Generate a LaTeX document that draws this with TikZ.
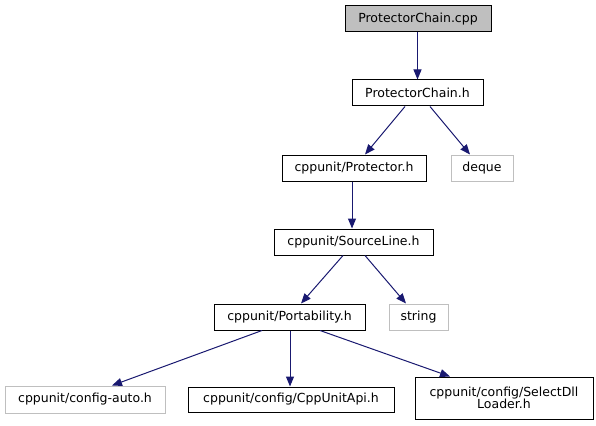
\documentclass[tikz,border=0pt]{standalone}
\usepackage{fontspec}
\setmainfont{DejaVu Sans}
\usetikzlibrary{arrows.meta}
\definecolor{edgecol}{HTML}{191970}
\definecolor{greyline}{HTML}{BFBFBF}
\tikzset{
  box/.style={draw=black, line width=1pt, fill=white, inner sep=0pt, minimum height=26pt,
    font=\fontsize{12.5}{14}\selectfont, align=center},
  extbox/.style={box, draw=greyline},
  rootbox/.style={box, fill=greyline},
  edge/.style={draw=edgecol, line width=1pt, -{Triangle[length=10pt,width=8pt]}}
}
\begin{document}
\begin{tikzpicture}[x=1pt,y=-1pt]
\useasboundingbox (0,0) rectangle (596,425);
\node[rootbox, minimum width=146pt, minimum height=26pt] (cpp) at (418,19) {ProtectorChain.cpp};
\node[box, minimum width=131pt] (pch) at (417.5,93) {ProtectorChain.h};
\node[box, minimum width=144pt] (prot) at (354,168) {cppunit/Protector.h};
\node[extbox, minimum width=62pt] (deque) at (482,168) {deque};
\node[box, minimum width=159pt] (src) at (353.5,242) {cppunit/SourceLine.h};
\node[extbox, minimum width=59pt] (string) at (418.5,317) {string};
\node[box, minimum width=151pt] (port) at (289.5,317) {cppunit/Portability.h};
\node[extbox, minimum width=160pt, minimum height=27pt] (auto) at (85,399.5) {cppunit/config-auto.h};
\node[box, minimum width=206pt, minimum height=25pt] (api) at (291,399.5) {cppunit/config/CppUnitApi.h};
\node[box, minimum width=178pt, minimum height=42pt, text width=170pt] (dll) at (504,398) {cppunit/config/SelectDll\\[-2pt]Loader.h};

\draw[edge] (cpp.south -| 417.5,0) -- (pch.north);
\draw[edge] ([xshift=-12.5pt]pch.south) -- ([xshift=11pt]prot.north);
\draw[edge] ([xshift=12.5pt]pch.south) -- ([xshift=-12pt]deque.north);
\draw[edge] (prot.south -| 352,0) -- (src.north -| 352,0);
\draw[edge] ([xshift=-10.5pt]src.south) -- ([xshift=11.5pt]port.north);
\draw[edge] ([xshift=11.5pt]src.south) -- ([xshift=-12.5pt]string.north);
\draw[edge] ([xshift=-27.5pt]port.south) -- ([xshift=27pt]auto.north);
\draw[edge] (port.south -| 290,0) -- (api.north -| 290,0);
\draw[edge] ([xshift=30.5pt]port.south) -- ([xshift=-54pt]dll.north);
\end{tikzpicture}
\end{document}
